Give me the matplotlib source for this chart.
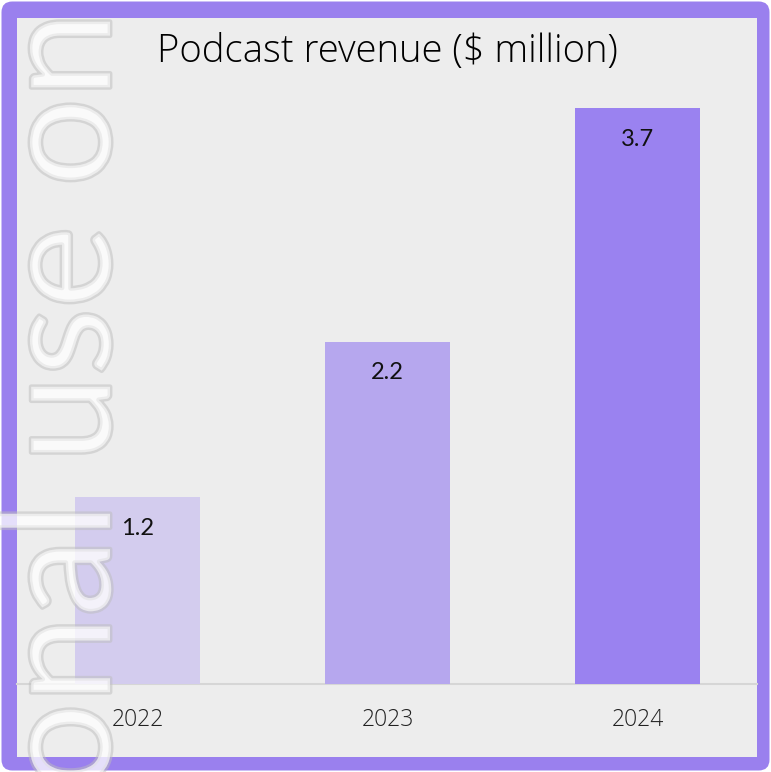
import matplotlib
matplotlib.use("Agg")
import matplotlib.pyplot as plt
from matplotlib.patches import FancyBboxPatch, Rectangle
import matplotlib.patheffects as pe

# Data
years = ["2022", "2023", "2024"]
revenue = [1.2, 2.2, 3.7]
value_labels = ["1.2", "2.2", "3.7"]
bar_colors = ["#D3CCEE", "#B6A7EE", "#9A82F0"]
title = "Podcast revenue ($ million)"
watermark = "onal use on"

W, H = 771, 772
fig = plt.figure(figsize=(W / 100, H / 100), dpi=100, facecolor="white")

def fx(px):
    return px / W

def fy(py):
    return 1 - py / H

# Purple rounded frame and light grey panel
frame = FancyBboxPatch((fx(1.5), fy(770.5)), fx(768), (769 / H),
                       boxstyle="round,pad=0,rounding_size=0.014",
                       transform=fig.transFigure, facecolor="#9A80EE",
                       edgecolor="none", zorder=-2)
fig.patches.append(frame)
panel = Rectangle((fx(17), fy(757)), fx(757 - 17), (757 - 18) / H,
                  transform=fig.transFigure, facecolor="#EDEDED",
                  edgecolor="none", zorder=-1)
fig.patches.append(panel)

# Axes: baseline at y=684 px, top at panel top
ax = fig.add_axes([fx(17), fy(684), fx(757 - 17), (684 - 18) / H])
ax.set_facecolor("none")
x = list(range(len(years)))
ax.bar(x, revenue, width=0.5, color=bar_colors, zorder=2)
ax.set_xlim(-0.482, 2.478)
ax.set_ylim(0, 3.7 * (684 - 18) / (684 - 108))

for xi, v, lab in zip(x, revenue, value_labels):
    ax.annotate(lab, (xi, v), xytext=(0, -31 * 0.72), textcoords="offset points",
                ha="center", va="center", fontsize=17, color="#111111",
                family="Lato", zorder=3)

for s in ["left", "right", "top"]:
    ax.spines[s].set_visible(False)
ax.spines["bottom"].set_color("#D6D6D6")
ax.spines["bottom"].set_linewidth(1.5)
ax.spines["bottom"].set_zorder(1)
ax.set_yticks([])
ax.set_xticks(x)
ax.set_xticklabels(years, fontsize=16.5, color="#222222", family="Open Sans",
                   fontweight="light")
ax.tick_params(axis="x", length=0, pad=17)

fig.text(fx(387), fy(52), title, ha="center", va="center", fontsize=27.5,
         color="#000000", family="Open Sans", fontweight="light")

# Vertical watermark drawn over everything
fig.text(fx(110), fy(12), watermark, rotation=90, rotation_mode="anchor",
         ha="right", va="baseline", fontsize=112, family="Lato",
         fontweight="normal", color="white", alpha=0.5, zorder=10,
         path_effects=[pe.Stroke(linewidth=3.5, foreground="#BDBDBD", alpha=0.5),
                       pe.Normal()])

fig.savefig("out.png", dpi=100, facecolor="white")
